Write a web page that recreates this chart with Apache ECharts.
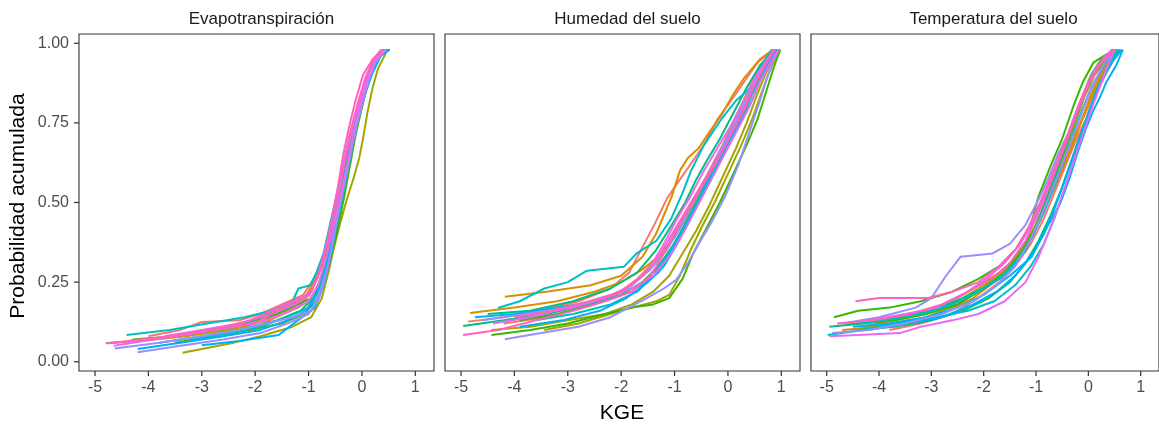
<!DOCTYPE html>
<html>
<head>
<meta charset="utf-8">
<title>KGE</title>
<script src="https://cdn.jsdelivr.net/npm/echarts@6/dist/echarts.min.js"></script>
<style>
  html, body { margin: 0; padding: 0; background: #fff; }
  #chart { width: 1159px; height: 430px; }
</style>
</head>
<body>
<div id="chart"></div>
<script>
// facet titles
var panelTitles = ['Evapotranspiración', 'Humedad del suelo', 'Temperatura del suelo'];
var xTicks = [-5, -4, -3, -2, -1, 0, 1];
var yTicks = [0, 0.25, 0.5, 0.75, 1];
// ggplot hue palette, one colour per pair of curves
var palette = ['#F8766D', '#D89000', '#A3A500', '#39B600', '#00BF7D', '#00BFC4', '#00B0F6', '#9590FF', '#E76BF3', '#FF62BC'];

// each curve: [KGE, probabilidad acumulada]
var evapLines = [
  [[-4.75,0.059],[-4.0,0.07],[-3.2,0.09],[-2.4,0.11],[-1.9,0.14],[-1.4,0.17],[-1.05,0.2],[-0.85,0.27],[-0.65,0.37],[-0.5,0.46],[-0.35,0.56],[-0.22,0.66],[-0.1,0.76],[0.05,0.85],[0.2,0.92],[0.38,0.98]],
  [[-4.0,0.08],[-3.4,0.1],[-3.0,0.125],[-2.3,0.13],[-1.9,0.15],[-1.5,0.18],[-1.1,0.21],[-0.9,0.26],[-0.7,0.34],[-0.55,0.43],[-0.42,0.52],[-0.3,0.63],[-0.25,0.7],[-0.12,0.74],[0.0,0.82],[0.15,0.9],[0.28,0.95],[0.42,0.98]],
  [[-4.8,0.058],[-4.1,0.066],[-3.3,0.08],[-2.5,0.1],[-2.0,0.12],[-1.5,0.15],[-1.1,0.19],[-0.9,0.25],[-0.7,0.33],[-0.55,0.42],[-0.4,0.52],[-0.25,0.63],[-0.15,0.72],[0.0,0.8],[0.12,0.88],[0.3,0.95],[0.45,0.98]],
  [[-2.6,0.09],[-2.0,0.11],[-1.6,0.14],[-1.2,0.17],[-0.95,0.22],[-0.75,0.3],[-0.6,0.4],[-0.48,0.5],[-0.35,0.6],[-0.22,0.7],[-0.1,0.79],[0.05,0.87],[0.22,0.94],[0.4,0.98]],
  [[-3.36,0.028],[-3.0,0.04],[-2.4,0.06],[-1.9,0.08],[-1.3,0.11],[-0.95,0.14],[-0.75,0.2],[-0.6,0.3],[-0.48,0.4],[-0.38,0.5],[-0.28,0.6],[-0.15,0.7],[-0.05,0.78],[0.08,0.86],[0.2,0.92],[0.35,0.96],[0.47,0.98]],
  [[-4.0,0.07],[-3.0,0.09],[-2.2,0.11],[-1.7,0.14],[-1.2,0.17],[-0.9,0.2],[-0.68,0.27],[-0.52,0.36],[-0.4,0.44],[-0.3,0.5],[-0.15,0.58],[-0.05,0.64],[0.02,0.7],[0.1,0.78],[0.2,0.86],[0.3,0.92],[0.48,0.98]],
  [[-4.3,0.07],[-3.5,0.08],[-2.8,0.1],[-2.2,0.12],[-1.6,0.15],[-1.2,0.18],[-0.95,0.2],[-0.8,0.25],[-0.65,0.33],[-0.5,0.43],[-0.38,0.52],[-0.25,0.62],[-0.15,0.72],[-0.02,0.8],[0.12,0.88],[0.28,0.95],[0.45,0.98]],
  [[-3.5,0.06],[-2.8,0.08],[-2.1,0.1],[-1.5,0.12],[-1.1,0.15],[-0.85,0.19],[-0.7,0.25],[-0.58,0.33],[-0.45,0.42],[-0.33,0.52],[-0.22,0.62],[-0.12,0.71],[0.0,0.8],[0.12,0.88],[0.3,0.95],[0.47,0.98]],
  [[-3.8,0.06],[-3.0,0.08],[-2.3,0.1],[-1.6,0.13],[-1.15,0.16],[-0.9,0.2],[-0.75,0.27],[-0.62,0.35],[-0.5,0.44],[-0.38,0.52],[-0.28,0.6],[-0.18,0.69],[-0.06,0.78],[0.08,0.86],[0.22,0.93],[0.42,0.98]],
  [[-2.9,0.1],[-2.2,0.12],[-1.6,0.16],[-1.2,0.19],[-0.95,0.22],[-0.78,0.29],[-0.62,0.38],[-0.5,0.47],[-0.38,0.56],[-0.25,0.66],[-0.14,0.75],[-0.02,0.83],[0.14,0.9],[0.32,0.96],[0.5,0.98]],
  [[-4.41,0.084],[-3.6,0.1],[-2.9,0.12],[-2.2,0.14],[-1.7,0.16],[-1.3,0.19],[-1.19,0.23],[-0.97,0.24],[-0.85,0.28],[-0.72,0.34],[-0.6,0.43],[-0.45,0.54],[-0.32,0.64],[-0.2,0.73],[-0.05,0.82],[0.12,0.9],[0.3,0.96],[0.52,0.98]],
  [[-3.2,0.07],[-2.5,0.09],[-1.9,0.11],[-1.4,0.14],[-1.0,0.17],[-0.82,0.2],[-0.68,0.27],[-0.56,0.36],[-0.45,0.45],[-0.34,0.54],[-0.22,0.64],[-0.1,0.74],[0.02,0.82],[0.18,0.9],[0.35,0.96],[0.52,0.98]],
  [[-3.0,0.052],[-2.3,0.065],[-1.56,0.084],[-1.2,0.13],[-0.88,0.17],[-0.72,0.24],[-0.6,0.32],[-0.5,0.41],[-0.4,0.5],[-0.3,0.58],[-0.18,0.68],[-0.06,0.77],[0.07,0.85],[0.2,0.91],[0.35,0.96],[0.5,0.98]],
  [[-4.2,0.04],[-3.4,0.06],[-2.6,0.08],[-1.9,0.1],[-1.4,0.13],[-1.05,0.16],[-0.85,0.21],[-0.7,0.28],[-0.57,0.37],[-0.45,0.47],[-0.33,0.57],[-0.2,0.67],[-0.08,0.76],[0.06,0.85],[0.22,0.92],[0.4,0.98]],
  [[-4.63,0.042],[-3.8,0.06],[-3.0,0.08],[-2.3,0.1],[-1.8,0.12],[-1.3,0.14],[-0.95,0.16],[-0.78,0.22],[-0.64,0.3],[-0.52,0.4],[-0.4,0.5],[-0.28,0.6],[-0.16,0.7],[-0.04,0.79],[0.1,0.87],[0.25,0.94],[0.45,0.98]],
  [[-4.2,0.03],[-3.4,0.05],[-2.6,0.07],[-1.9,0.09],[-1.4,0.12],[-1.0,0.15],[-0.8,0.2],[-0.66,0.28],[-0.54,0.38],[-0.43,0.48],[-0.3,0.58],[-0.18,0.68],[-0.06,0.77],[0.08,0.86],[0.2,0.93],[0.38,0.98]],
  [[-4.65,0.05],[-3.9,0.07],[-3.1,0.09],[-2.4,0.11],[-1.8,0.13],[-1.35,0.16],[-1.0,0.19],[-0.82,0.24],[-0.68,0.32],[-0.55,0.41],[-0.43,0.5],[-0.3,0.6],[-0.18,0.7],[-0.05,0.79],[0.1,0.88],[0.25,0.94],[0.4,0.98]],
  [[-3.7,0.08],[-3.0,0.1],[-2.3,0.12],[-1.7,0.15],[-1.25,0.18],[-0.98,0.21],[-0.8,0.28],[-0.65,0.37],[-0.52,0.46],[-0.4,0.56],[-0.28,0.66],[-0.15,0.75],[-0.02,0.83],[0.12,0.9],[0.3,0.96],[0.44,0.98]],
  [[-4.78,0.058],[-4.0,0.07],[-3.2,0.09],[-2.5,0.11],[-2.0,0.12],[-1.6,0.16],[-1.2,0.19],[-0.95,0.22],[-0.8,0.28],[-0.68,0.36],[-0.56,0.45],[-0.45,0.55],[-0.35,0.65],[-0.25,0.73],[-0.12,0.82],[0.02,0.9],[0.2,0.95],[0.38,0.98]],
  [[-4.4,0.065],[-3.6,0.08],[-2.8,0.1],[-2.1,0.13],[-1.7,0.16],[-1.3,0.19],[-1.0,0.21],[-0.84,0.26],[-0.7,0.34],[-0.58,0.43],[-0.46,0.52],[-0.35,0.62],[-0.22,0.72],[-0.08,0.81],[0.06,0.89],[0.22,0.95],[0.36,0.98]]
];

var humLines = [
  [[-4.87,0.126],[-4.2,0.14],[-3.5,0.16],[-2.8,0.19],[-2.2,0.23],[-1.85,0.28],[-1.6,0.36],[-1.35,0.44],[-1.15,0.51],[-0.95,0.56],[-0.7,0.62],[-0.45,0.68],[-0.2,0.76],[0.1,0.83],[0.35,0.89],[0.6,0.95],[0.85,0.98]],
  [[-4.2,0.12],[-3.4,0.14],[-2.7,0.17],[-2.1,0.21],[-1.7,0.26],[-1.4,0.31],[-1.1,0.37],[-0.85,0.44],[-0.6,0.52],[-0.35,0.6],[-0.1,0.68],[0.15,0.77],[0.4,0.86],[0.6,0.93],[0.9,0.98]],
  [[-4.18,0.204],[-3.4,0.22],[-2.57,0.24],[-2.0,0.27],[-1.6,0.33],[-1.35,0.4],[-1.2,0.46],[-1.05,0.52],[-0.9,0.6],[-0.75,0.64],[-0.55,0.67],[-0.35,0.72],[-0.1,0.78],[0.1,0.84],[0.3,0.89],[0.55,0.94],[0.85,0.98]],
  [[-4.83,0.153],[-4.0,0.17],[-3.2,0.19],[-2.5,0.22],[-2.0,0.25],[-1.6,0.29],[-1.3,0.33],[-1.0,0.39],[-0.75,0.46],[-0.5,0.54],[-0.25,0.63],[0.0,0.71],[0.25,0.8],[0.5,0.88],[0.7,0.94],[0.92,0.98]],
  [[-3.44,0.1],[-2.8,0.12],[-2.2,0.15],[-1.8,0.17],[-1.34,0.19],[-1.1,0.21],[-0.9,0.27],[-0.7,0.35],[-0.5,0.42],[-0.25,0.5],[0.0,0.59],[0.25,0.68],[0.45,0.76],[0.6,0.83],[0.75,0.9],[0.88,0.95],[0.98,0.98]],
  [[-4.43,0.1],[-3.7,0.11],[-3.0,0.13],[-2.3,0.15],[-1.8,0.18],[-1.4,0.22],[-1.1,0.27],[-0.85,0.34],[-0.6,0.41],[-0.35,0.49],[-0.1,0.58],[0.15,0.67],[0.35,0.75],[0.55,0.84],[0.72,0.91],[0.95,0.98]],
  [[-4.43,0.084],[-3.7,0.1],[-3.0,0.12],[-2.3,0.15],[-1.8,0.17],[-1.4,0.18],[-1.1,0.2],[-0.85,0.26],[-0.65,0.34],[-0.4,0.42],[-0.15,0.5],[0.1,0.59],[0.35,0.68],[0.55,0.76],[0.72,0.85],[0.85,0.92],[0.98,0.98]],
  [[-3.9,0.13],[-3.2,0.15],[-2.5,0.18],[-2.0,0.21],[-1.6,0.25],[-1.3,0.3],[-1.05,0.36],[-0.8,0.43],[-0.55,0.51],[-0.3,0.59],[-0.05,0.67],[0.2,0.75],[0.45,0.84],[0.65,0.91],[0.9,0.98]],
  [[-4.96,0.112],[-4.2,0.13],[-3.4,0.15],[-2.6,0.18],[-2.0,0.21],[-1.6,0.25],[-1.3,0.3],[-1.0,0.37],[-0.75,0.45],[-0.5,0.53],[-0.25,0.62],[0.0,0.7],[0.25,0.78],[0.5,0.87],[0.7,0.93],[0.9,0.98]],
  [[-4.5,0.15],[-3.7,0.16],[-2.9,0.19],[-2.2,0.23],[-1.7,0.28],[-1.35,0.35],[-1.05,0.43],[-0.8,0.5],[-0.6,0.57],[-0.4,0.63],[-0.15,0.7],[0.1,0.78],[0.35,0.86],[0.6,0.93],[0.85,0.98]],
  [[-4.31,0.169],[-3.9,0.19],[-3.44,0.23],[-3.0,0.25],[-2.64,0.286],[-1.95,0.298],[-1.71,0.34],[-1.34,0.38],[-1.06,0.45],[-0.85,0.53],[-0.69,0.6],[-0.45,0.68],[-0.13,0.76],[0.15,0.82],[0.43,0.86],[0.6,0.92],[0.82,0.98]],
  [[-3.6,0.13],[-2.9,0.15],[-2.2,0.18],[-1.7,0.22],[-1.4,0.27],[-1.15,0.33],[-0.9,0.4],[-0.65,0.48],[-0.4,0.56],[-0.15,0.64],[0.1,0.72],[0.35,0.8],[0.55,0.88],[0.75,0.94],[0.95,0.98]],
  [[-4.74,0.14],[-4.0,0.15],[-3.2,0.17],[-2.5,0.19],[-2.0,0.22],[-1.6,0.24],[-1.3,0.28],[-1.05,0.35],[-0.8,0.42],[-0.55,0.5],[-0.3,0.58],[-0.05,0.66],[0.2,0.74],[0.45,0.82],[0.65,0.9],[0.8,0.95],[0.92,0.98]],
  [[-3.9,0.11],[-3.1,0.13],[-2.4,0.16],[-1.9,0.2],[-1.5,0.25],[-1.2,0.3],[-0.95,0.37],[-0.7,0.45],[-0.45,0.53],[-0.2,0.61],[0.05,0.7],[0.3,0.79],[0.5,0.87],[0.7,0.93],[0.9,0.98]],
  [[-4.18,0.071],[-3.5,0.09],[-2.8,0.11],[-2.2,0.14],[-1.58,0.194],[-1.2,0.23],[-0.97,0.257],[-0.75,0.31],[-0.55,0.37],[-0.3,0.44],[-0.05,0.52],[0.2,0.62],[0.4,0.72],[0.6,0.82],[0.75,0.9],[0.86,0.95],[0.96,0.98]],
  [[-4.6,0.13],[-3.8,0.15],[-3.0,0.17],[-2.3,0.2],[-1.8,0.24],[-1.45,0.29],[-1.15,0.35],[-0.9,0.42],[-0.65,0.5],[-0.4,0.58],[-0.15,0.66],[0.1,0.74],[0.35,0.82],[0.55,0.9],[0.75,0.95],[0.88,0.98]],
  [[-4.4,0.12],[-3.7,0.14],[-3.0,0.17],[-2.3,0.2],[-1.8,0.24],[-1.45,0.3],[-1.2,0.37],[-0.95,0.45],[-0.7,0.52],[-0.45,0.6],[-0.2,0.67],[0.05,0.74],[0.3,0.82],[0.5,0.89],[0.7,0.94],[0.86,0.98]],
  [[-3.6,0.15],[-2.9,0.17],[-2.3,0.2],[-1.8,0.23],[-1.4,0.27],[-1.1,0.33],[-0.85,0.4],[-0.6,0.48],[-0.35,0.56],[-0.1,0.64],[0.15,0.72],[0.4,0.8],[0.6,0.88],[0.8,0.94],[0.95,0.98]],
  [[-4.96,0.084],[-4.3,0.1],[-3.6,0.13],[-2.9,0.16],[-2.3,0.19],[-1.8,0.22],[-1.45,0.27],[-1.2,0.34],[-0.95,0.42],[-0.7,0.49],[-0.45,0.56],[-0.2,0.63],[0.05,0.71],[0.3,0.79],[0.5,0.87],[0.7,0.93],[0.88,0.98]],
  [[-4.0,0.14],[-3.3,0.16],[-2.6,0.19],[-2.0,0.22],[-1.6,0.27],[-1.3,0.33],[-1.05,0.4],[-0.8,0.47],[-0.55,0.54],[-0.3,0.61],[-0.05,0.68],[0.2,0.76],[0.45,0.85],[0.65,0.92],[0.85,0.98]]
];

var tempLines = [
  [[-4.6,0.12],[-4.0,0.13],[-3.4,0.15],[-2.9,0.17],[-2.5,0.19],[-2.1,0.22],[-1.8,0.26],[-1.5,0.3],[-1.25,0.36],[-1.0,0.42],[-0.8,0.5],[-0.6,0.58],[-0.4,0.66],[-0.2,0.73],[0.0,0.8],[0.2,0.88],[0.4,0.94],[0.62,0.98]],
  [[-3.8,0.1],[-3.2,0.12],[-2.6,0.15],[-2.1,0.2],[-1.7,0.25],[-1.4,0.3],[-1.1,0.37],[-0.85,0.45],[-0.65,0.53],[-0.45,0.61],[-0.25,0.69],[-0.05,0.76],[0.15,0.84],[0.35,0.91],[0.6,0.98]],
  [[-4.3,0.11],[-3.7,0.13],[-3.1,0.15],[-2.6,0.19],[-2.1,0.24],[-1.7,0.28],[-1.4,0.32],[-1.15,0.38],[-0.9,0.45],[-0.7,0.53],[-0.5,0.61],[-0.3,0.69],[-0.1,0.77],[0.1,0.85],[0.3,0.92],[0.55,0.98]],
  [[-4.7,0.1],[-4.0,0.11],[-3.3,0.13],[-2.7,0.16],[-2.2,0.2],[-1.8,0.25],[-1.45,0.31],[-1.2,0.37],[-0.95,0.44],[-0.72,0.52],[-0.5,0.6],[-0.3,0.68],[-0.12,0.76],[0.05,0.84],[0.25,0.91],[0.5,0.98]],
  [[-4.5,0.1],[-3.8,0.12],[-3.1,0.14],[-2.5,0.18],[-2.0,0.23],[-1.6,0.27],[-1.3,0.33],[-1.05,0.4],[-0.85,0.48],[-0.68,0.56],[-0.5,0.64],[-0.32,0.72],[-0.15,0.8],[0.0,0.87],[0.2,0.93],[0.45,0.98]],
  [[-4.1,0.13],[-3.5,0.14],[-2.9,0.16],[-2.4,0.2],[-1.9,0.25],[-1.55,0.3],[-1.25,0.36],[-1.0,0.43],[-0.78,0.51],[-0.6,0.59],[-0.42,0.67],[-0.25,0.75],[-0.08,0.83],[0.12,0.9],[0.35,0.95],[0.55,0.98]],
  [[-4.86,0.14],[-4.4,0.16],[-3.8,0.17],[-3.2,0.19],[-2.6,0.22],[-2.1,0.26],[-1.7,0.3],[-1.35,0.36],[-1.1,0.43],[-0.95,0.52],[-0.71,0.62],[-0.5,0.7],[-0.27,0.81],[-0.1,0.88],[0.1,0.94],[0.3,0.96],[0.5,0.98]],
  [[-4.3,0.12],[-3.7,0.13],[-3.1,0.15],[-2.5,0.18],[-2.0,0.23],[-1.6,0.28],[-1.3,0.34],[-1.05,0.41],[-0.85,0.49],[-0.65,0.58],[-0.45,0.67],[-0.28,0.75],[-0.12,0.83],[0.05,0.9],[0.25,0.95],[0.48,0.98]],
  [[-4.95,0.11],[-4.3,0.12],[-3.6,0.14],[-3.0,0.16],[-2.4,0.2],[-1.9,0.24],[-1.5,0.29],[-1.2,0.35],[-0.98,0.43],[-0.8,0.51],[-0.62,0.59],[-0.45,0.67],[-0.28,0.75],[-0.1,0.83],[0.1,0.9],[0.3,0.95],[0.52,0.98]],
  [[-4.4,0.1],[-3.7,0.11],[-3.0,0.13],[-2.4,0.16],[-1.9,0.2],[-1.5,0.25],[-1.2,0.31],[-0.95,0.38],[-0.72,0.46],[-0.52,0.54],[-0.35,0.62],[-0.18,0.7],[0.0,0.78],[0.18,0.86],[0.38,0.93],[0.58,0.98]],
  [[-4.98,0.084],[-4.3,0.1],[-3.6,0.12],[-2.9,0.14],[-2.3,0.16],[-1.8,0.19],[-1.4,0.24],[-1.1,0.3],[-0.85,0.37],[-0.65,0.45],[-0.48,0.53],[-0.32,0.61],[-0.18,0.69],[-0.02,0.77],[0.15,0.85],[0.35,0.92],[0.6,0.98]],
  [[-4.6,0.12],[-3.9,0.13],[-3.2,0.15],[-2.6,0.18],[-2.1,0.22],[-1.7,0.26],[-1.35,0.32],[-1.08,0.39],[-0.85,0.47],[-0.65,0.55],[-0.47,0.63],[-0.3,0.71],[-0.12,0.79],[0.08,0.87],[0.3,0.93],[0.56,0.98]],
  [[-4.5,0.11],[-3.8,0.12],[-3.1,0.14],[-2.5,0.17],[-2.0,0.21],[-1.5,0.27],[-1.08,0.33],[-0.8,0.42],[-0.53,0.5],[-0.35,0.58],[-0.21,0.655],[-0.05,0.73],[0.1,0.79],[0.22,0.83],[0.35,0.88],[0.53,0.93],[0.66,0.98]],
  [[-4.2,0.1],[-3.5,0.12],[-2.8,0.14],[-2.2,0.18],[-1.75,0.22],[-1.4,0.27],[-1.1,0.33],[-0.85,0.4],[-0.65,0.48],[-0.47,0.56],[-0.3,0.64],[-0.12,0.72],[0.05,0.8],[0.25,0.88],[0.45,0.94],[0.64,0.98]],
  [[-4.7,0.12],[-4.0,0.14],[-3.3,0.17],[-3.0,0.2],[-2.72,0.27],[-2.44,0.33],[-1.83,0.34],[-1.5,0.37],[-1.2,0.43],[-0.98,0.5],[-0.78,0.57],[-0.58,0.65],[-0.38,0.72],[-0.2,0.8],[0.0,0.87],[0.2,0.93],[0.45,0.98]],
  [[-4.9,0.09],[-4.2,0.1],[-3.5,0.12],[-2.8,0.15],[-2.2,0.19],[-1.75,0.24],[-1.4,0.3],[-1.15,0.37],[-0.92,0.45],[-0.72,0.53],[-0.52,0.61],[-0.33,0.69],[-0.15,0.77],[0.03,0.85],[0.25,0.92],[0.5,0.98]],
  [[-4.95,0.08],[-4.3,0.085],[-3.6,0.09],[-3.2,0.11],[-2.6,0.13],[-2.1,0.15],[-1.6,0.19],[-1.2,0.25],[-0.95,0.33],[-0.75,0.41],[-0.55,0.5],[-0.38,0.58],[-0.22,0.66],[-0.05,0.74],[0.12,0.82],[0.3,0.9],[0.5,0.98]],
  [[-4.2,0.13],[-3.5,0.15],[-2.9,0.17],[-2.4,0.21],[-1.95,0.26],[-1.6,0.31],[-1.3,0.37],[-1.05,0.44],[-0.85,0.52],[-0.65,0.6],[-0.45,0.68],[-0.27,0.76],[-0.1,0.84],[0.1,0.91],[0.32,0.96],[0.5,0.98]],
  [[-4.45,0.19],[-4.0,0.2],[-3.5,0.2],[-3.06,0.2],[-2.6,0.22],[-2.1,0.25],[-1.7,0.3],[-1.4,0.35],[-1.15,0.42],[-0.92,0.5],[-0.72,0.58],[-0.52,0.66],[-0.33,0.74],[-0.15,0.82],[0.05,0.89],[0.25,0.94],[0.5,0.98]],
  [[-4.8,0.12],[-4.1,0.13],[-3.4,0.15],[-2.8,0.18],[-2.3,0.22],[-1.85,0.26],[-1.5,0.31],[-1.2,0.38],[-0.97,0.46],[-0.77,0.54],[-0.58,0.62],[-0.4,0.7],[-0.22,0.78],[-0.02,0.86],[0.2,0.93],[0.45,0.98]]
];

var chart = echarts.init(document.getElementById('chart'), null, { renderer: 'canvas' });
var FONT = '"Liberation Sans", Arial, Helvetica, sans-serif';
var X_MIN = -5.3, X_MAX = 1.35, Y_MIN = -0.029, Y_MAX = 1.029;
var TICK_LEN = 5;
var panelLeft = [79, 445, 811];
var panelWidth = 355;
var panels = [evapLines, humLines, tempLines];

var grids = [], xAxes = [], yAxes = [], titles = [], series = [];

// outside tick marks, placed through the axis scale (clip off so they sit outside the panel)
function tickSeries(p, values, dir) {
  var data = values.map(function (v) {
    return dir === 'x' ? [v, Y_MIN] : [X_MIN, v];
  });
  return {
    type: 'custom', xAxisIndex: p, yAxisIndex: p, silent: true, clip: false, z: 5,
    data: data,
    renderItem: function (params, api) {
      var a = api.coord([api.value(0), api.value(1)]);
      var b = dir === 'x' ? [a[0], a[1] + TICK_LEN] : [a[0] - TICK_LEN, a[1]];
      return {
        type: 'line',
        shape: { x1: a[0], y1: a[1], x2: b[0], y2: b[1] },
        style: { stroke: '#333333', lineWidth: 1.2 }
      };
    }
  };
}

panels.forEach(function (lines, p) {
  grids.push({
    left: panelLeft[p], top: 34, width: panelWidth, height: 337,
    show: true, borderColor: '#333333', borderWidth: 1.1, containLabel: false
  });
  titles.push({
    text: panelTitles[p],
    left: panelLeft[p] + panelWidth / 2, top: 6, textAlign: 'center',
    textStyle: { fontFamily: FONT, fontSize: 17, fontWeight: 'normal', color: '#1A1A1A' }
  });
  xAxes.push({
    type: 'value', gridIndex: p, min: X_MIN, max: X_MAX,
    axisLine: { show: false, onZero: false },
    axisTick: { show: false },
    axisLabel: { margin: 9, customValues: xTicks, fontFamily: FONT, fontSize: 16, color: '#4D4D4D' },
    splitLine: { show: false }
  });
  yAxes.push({
    type: 'value', gridIndex: p, min: Y_MIN, max: Y_MAX,
    axisLine: { show: false, onZero: false },
    axisTick: { show: false },
    axisLabel: {
      show: p === 0, margin: 10, customValues: yTicks, fontFamily: FONT, fontSize: 16, color: '#4D4D4D',
      formatter: function (v) { return v.toFixed(2); }
    },
    splitLine: { show: false }
  });
  lines.forEach(function (pts, i) {
    series.push({
      type: 'line', xAxisIndex: p, yAxisIndex: p,
      data: pts, showSymbol: false, silent: true,
      lineStyle: { width: 2, color: palette[Math.floor(i / 2)] }
    });
  });
  series.push(tickSeries(p, xTicks, 'x'));
  if (p === 0) series.push(tickSeries(p, yTicks, 'y'));
});

chart.setOption({
  backgroundColor: '#ffffff',
  animation: false,
  title: titles,
  grid: grids,
  xAxis: xAxes,
  yAxis: yAxes,
  series: series,
  graphic: [
    {
      type: 'text', x: 18, y: 206, rotation: Math.PI / 2,
      style: { text: 'Probabilidad acumulada', fontFamily: FONT, fontSize: 21, fill: '#000', textAlign: 'center', textVerticalAlign: 'middle' }
    },
    {
      type: 'text', x: 622, y: 413,
      style: { text: 'KGE', fontFamily: FONT, fontSize: 21, fill: '#000', textAlign: 'center', textVerticalAlign: 'middle' }
    }
  ]
});
</script>
</body>
</html>
